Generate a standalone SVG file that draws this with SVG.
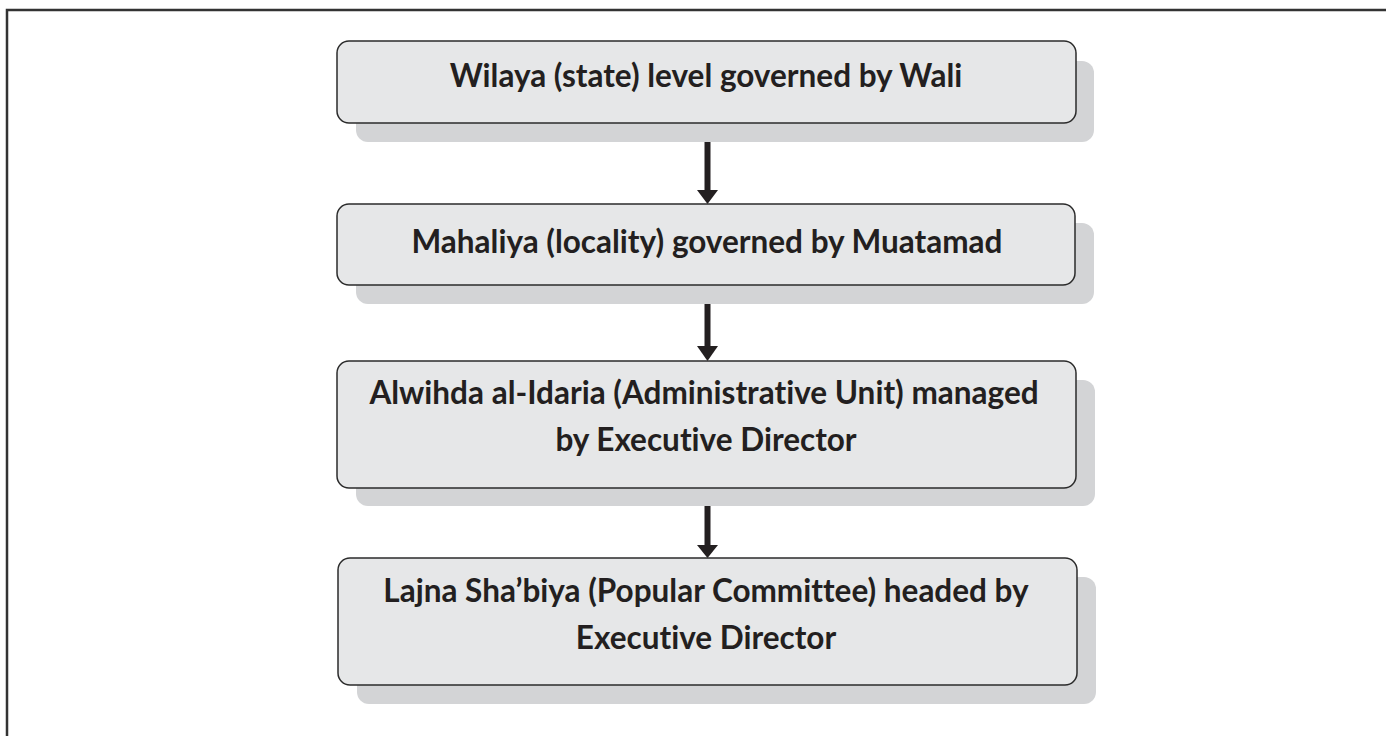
<svg xmlns="http://www.w3.org/2000/svg" width="1386" height="736" viewBox="0 0 1386 736">
<defs>
<style>
.shadow{fill:#d3d4d6;stroke:none}
.box{fill:#e6e7e8;stroke:#2b2b2b;stroke-width:1.5}
.lbl{font-family:Lato,"Noto Sans","Open Sans",sans-serif;font-weight:bold;font-size:31.5px;fill:#231f20;text-anchor:middle;font-variant-ligatures:none;font-feature-settings:"liga" 0,"clig" 0,"dlig" 0}
.conn{stroke:#231f20;stroke-width:6;fill:none}
.head{fill:#231f20}
</style>
</defs>
<rect x="0" y="0" width="1386" height="736" fill="#ffffff"/>
<path d="M7,737 L7,10 L1387,10" fill="none" stroke="#333" stroke-width="2.5"/>
<g id="connectors">
<line class="conn" x1="707.5" y1="123" x2="707.5" y2="192"/>
<path class="head" d="M697,190 L718,190 L707.5,204 Z"/>
<line class="conn" x1="707.5" y1="285" x2="707.5" y2="348"/>
<path class="head" d="M697,346 L718,346 L707.5,361 Z"/>
<line class="conn" x1="707.5" y1="488" x2="707.5" y2="547"/>
<path class="head" d="M697,545 L718,545 L707.5,558 Z"/>
</g>
<g id="node1">
<rect class="shadow" x="356" y="61" width="738" height="81" rx="12"/>
<rect class="box" x="337" y="41" width="739" height="82" rx="12"/>
<text class="lbl" x="706" y="87">Wilaya (state) level governed by Wali</text>
</g>
<g id="node2">
<rect class="shadow" x="356" y="223" width="738" height="81" rx="12"/>
<rect class="box" x="337" y="204" width="738" height="81" rx="12"/>
<text class="lbl" x="707" y="253">Mahaliya (locality) governed by Muatamad</text>
</g>
<g id="node3">
<rect class="shadow" x="356" y="380" width="739" height="126" rx="12"/>
<rect class="box" x="337" y="361" width="739" height="127" rx="12"/>
<text class="lbl" x="704" y="404">Alwihda al-Idaria (Administrative Unit) managed</text>
<text class="lbl" x="706" y="451">by Executive Director</text>
</g>
<g id="node4">
<rect class="shadow" x="357" y="577" width="739" height="127" rx="12"/>
<rect class="box" x="338" y="558" width="739" height="127" rx="12"/>
<text class="lbl" x="706" y="602">Lajna Sha’biya (Popular Committee) headed by</text>
<text class="lbl" x="706" y="649">Executive Director</text>
</g>
</svg>
